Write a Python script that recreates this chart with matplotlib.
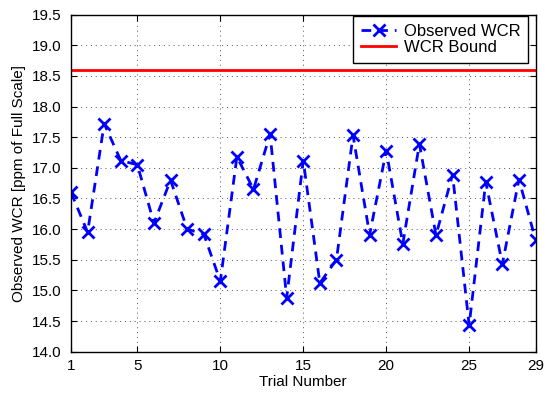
import matplotlib
matplotlib.use("Agg")
import matplotlib.pyplot as plt
from matplotlib.ticker import FormatStrFormatter

plt.rcParams['font.family'] = ['Liberation Sans', 'DejaVu Sans']

trials = list(range(1, 30))
observed_wcr = [16.6, 15.95, 17.72, 17.12, 17.05, 16.1, 16.8, 16.0, 15.92, 15.15,
                17.18, 16.65, 17.55, 14.88, 17.12, 15.12, 15.5, 17.53, 15.91, 17.28,
                15.76, 17.39, 15.9, 16.89, 14.43, 16.77, 15.43, 16.81, 15.83]
wcr_bound = 18.6
x_ticks = [1, 5, 10, 15, 20, 25, 29]
y_ticks = [14.0 + 0.5 * i for i in range(12)]

fig = plt.figure(figsize=(5.45, 3.99), dpi=100)
ax = fig.add_axes([0.1303, 0.1186, 0.8523, 0.8446])

ax.plot(trials, observed_wcr, linestyle='--', dashes=(3.5, 2.5), color='#0000ff', marker='x',
        markersize=9, markeredgewidth=2, linewidth=2, label='Observed WCR')
ax.axhline(wcr_bound, color='#ff0000', linewidth=2, label='WCR Bound')

ax.set_xlim(1, 29)
ax.set_ylim(14.0, 19.5)
ax.set_xticks(x_ticks)
ax.set_yticks(y_ticks)
ax.yaxis.set_major_formatter(FormatStrFormatter('%.1f'))
ax.grid(True, linestyle=(0, (1, 4)), color='#555555', linewidth=0.7)
ax.set_axisbelow(True)
ax.tick_params(direction='in', labelsize=11, top=True, right=True, length=4)
ax.tick_params(axis='x', pad=5)
ax.tick_params(axis='y', pad=7)
for s in ax.spines.values():
    s.set_linewidth(1.0)
ax.set_xlabel('Trial Number', fontsize=11, labelpad=2)
ax.set_ylabel('Observed WCR [ppm of Full Scale]', fontsize=11, labelpad=4)

leg = ax.legend(loc='upper right', bbox_to_anchor=(0.984, 0.996), fontsize=12,
                fancybox=False, framealpha=1, edgecolor='black', borderaxespad=0.0,
                handlelength=2.15, handletextpad=0.45, borderpad=0.45,
                labelspacing=0.1)
leg.get_frame().set_linewidth(1.0)

fig.savefig('out.png', dpi=100)
